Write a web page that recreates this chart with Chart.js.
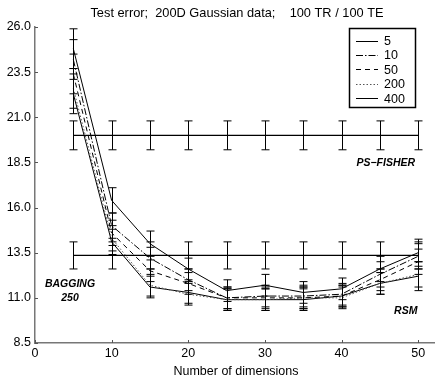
<!DOCTYPE html>
<html>
<head>
<meta charset="utf-8">
<script src="https://cdn.jsdelivr.net/npm/chart.js@4/dist/chart.umd.min.js"></script>
<style>
  html, body { margin: 0; padding: 0; background: #fff; }
  #wrap { width: 435px; height: 383px; }
</style>
</head>
<body>
<div id="wrap"><canvas id="c" width="435" height="383"></canvas></div>
<script>
// chart data
const dims = [5, 10, 15, 20, 25, 30, 35, 40, 45, 50];
const xTicks = [0, 10, 20, 30, 40, 50];
const yTicks = [8.5, 11.0, 13.5, 16.0, 18.5, 21.0, 23.5, 26.0];

const seriesNames = ['5', '10', '50', '200', '400'];
const rsm5   = [24.8, 16.4, 14.0, 12.6, 11.4, 11.7, 11.3, 11.5, 12.6, 13.5];
const rsm10  = [24.2, 15.0, 13.2, 12.0, 11.0, 11.1, 11.1, 11.2, 12.3, 13.3];
const rsm50  = [23.4, 14.6, 12.5, 11.8, 11.0, 11.0, 11.0, 11.1, 12.0, 13.0];
const rsm200 = [22.6, 14.3, 11.7, 11.2, 10.9, 10.9, 11.0, 11.0, 11.8, 12.3];
const rsm400 = [22.3, 14.1, 11.6, 11.3, 10.9, 10.9, 10.9, 11.1, 11.8, 12.2];

const err5   = [1.1, 0.7, 0.7, 0.6, 0.6, 0.6, 0.6, 0.6, 0.7, 0.75];
const err10  = [1.1, 0.7, 0.6, 0.6, 0.6, 0.6, 0.6, 0.6, 0.7, 0.7];
const err50  = [1.1, 0.7, 0.6, 0.6, 0.6, 0.6, 0.6, 0.6, 0.6, 0.7];
const err200 = [1.1, 0.7, 0.6, 0.6, 0.6, 0.6, 0.6, 0.6, 0.6, 0.7];
const err400 = [1.1, 0.7, 0.6, 0.6, 0.6, 0.6, 0.6, 0.6, 0.6, 0.8];

const psFisher = 20.0, psFisherErr = 0.8;
const bagging = 13.35, baggingErr = 0.75;

const FONT = 'Arial, "Liberation Sans", Helvetica, sans-serif';

const pts = vals => dims.map((d, i) => ({ x: d, y: vals[i] }));
const flat = v => dims.map(d => ({ x: d, y: v }));

function ds(label, vals, errs, dash, color) {
  return {
    label, data: pts(vals), errs,
    borderColor: color || '#000', borderWidth: 1, borderDash: dash,
    pointRadius: 0, tension: 0, fill: false
  };
}

const datasets = [
  ds('5', rsm5, err5, []),
  ds('10', rsm10, err10, [7, 2, 1.5, 2]),
  ds('50', rsm50, err50, [5, 4]),
  ds('200', rsm200, err200, [1.5, 2], '#555'),
  ds('400', rsm400, err400, []),
  { label: 'PS-FISHER', data: flat(psFisher), errs: dims.map(() => psFisherErr),
    borderColor: '#000', borderWidth: 1.3, pointRadius: 0, fill: false },
  { label: 'BAGGING', data: flat(bagging), errs: dims.map(() => baggingErr),
    borderColor: '#000', borderWidth: 1.3, pointRadius: 0, fill: false }
];

// error bars, inward ticks, legend box and labels
const extras = {
  id: 'extras',
  afterDatasetsDraw(chart) {
    const { ctx, scales: { x, y }, chartArea } = chart;
    ctx.save();
    ctx.strokeStyle = '#000';
    ctx.lineWidth = 1;
    ctx.setLineDash([]);
    chart.data.datasets.forEach(d => {
      d.data.forEach((p, i) => {
        const px = Math.round(x.getPixelForValue(p.x)) + 0.5;
        const y1 = y.getPixelForValue(p.y - d.errs[i]);
        const y2 = y.getPixelForValue(p.y + d.errs[i]);
        ctx.beginPath();
        ctx.moveTo(px, y1); ctx.lineTo(px, y2);
        ctx.moveTo(px - 4, y1); ctx.lineTo(px + 4, y1);
        ctx.moveTo(px - 4, y2); ctx.lineTo(px + 4, y2);
        ctx.stroke();
      });
    });

    // inward tick marks
    ctx.strokeStyle = '#555';
    ctx.beginPath();
    yTicks.forEach(v => {
      const py = Math.round(y.getPixelForValue(v)) + 0.5;
      ctx.moveTo(chartArea.left, py); ctx.lineTo(chartArea.left + 3, py);
    });
    xTicks.forEach(v => {
      const px = Math.round(x.getPixelForValue(v)) + 0.5;
      ctx.moveTo(px, chartArea.bottom); ctx.lineTo(px, chartArea.bottom - 3);
    });
    ctx.stroke();

    // titles
    ctx.fillStyle = '#000';
    ctx.font = '12.8px ' + FONT;
    ctx.textAlign = 'center';
    ctx.textBaseline = 'middle';
    ctx.fillText('Test error;  200D Gaussian data;    100 TR / 100 TE', 237, 13);
    ctx.font = '12.5px ' + FONT;
    ctx.fillText('Number of dimensions', 236, 372);

    // method labels
    ctx.font = 'italic bold 10.5px ' + FONT;
    ctx.textAlign = 'right';
    ctx.fillText('PS\u2212FISHER', x.getPixelForValue(49.6), y.getPixelForValue(18.45));
    ctx.fillText('RSM', x.getPixelForValue(49.9), y.getPixelForValue(10.25));
    ctx.textAlign = 'center';
    ctx.fillText('BAGGING', 70, y.getPixelForValue(11.77));
    ctx.fillText('250', 70, y.getPixelForValue(10.98));

    // legend
    const bx = 349, by = 28, bw = 66, bh = 79;
    ctx.fillStyle = '#fff';
    ctx.fillRect(bx, by, bw, bh);
    ctx.strokeStyle = '#000';
    ctx.lineWidth = 1.5;
    ctx.strokeRect(bx + 0.5, by + 0.5, bw, bh);
    ctx.font = '12.5px ' + FONT;
    ctx.textAlign = 'left';
    ctx.fillStyle = '#000';
    ctx.lineWidth = 1;
    seriesNames.forEach((name, i) => {
      const d = chart.data.datasets[i];
      const ly = by + 12.5 + i * 14.4;
      ctx.strokeStyle = d.borderColor;
      ctx.setLineDash(d.borderDash);
      ctx.beginPath();
      ctx.moveTo(bx + 7, Math.round(ly) + 0.5); ctx.lineTo(bx + 29, Math.round(ly) + 0.5);
      ctx.stroke();
      ctx.setLineDash([]);
      ctx.fillText(name, bx + 35, ly + 1);
    });
    ctx.restore();
  }
};

new Chart(document.getElementById('c'), {
  type: 'line',
  data: { datasets },
  plugins: [extras],
  options: {
    responsive: false,
    animation: false,
    layout: { padding: { top: 27, right: 0, left: 0, bottom: 0 } },
    plugins: { legend: { display: false }, tooltip: { enabled: false } },
    scales: {
      x: {
        type: 'linear', min: 0, max: 52.2,
        afterBuildTicks: s => { s.ticks = xTicks.map(v => ({ value: v })); },
        afterFit: s => { s.height = 40; },
        grid: { display: false, drawTicks: false },
        border: { display: true, color: '#777', width: 1.5 },
        ticks: { color: '#000', font: { family: FONT, size: 12.5 }, padding: 3, maxRotation: 0 }
      },
      y: {
        type: 'linear', min: 8.5, max: 26,
        afterBuildTicks: s => { s.ticks = yTicks.map(v => ({ value: v })); },
        afterFit: s => { s.width = 35; },
        grid: { display: false, drawTicks: false },
        border: { display: true, color: '#777', width: 1.5 },
        ticks: { color: '#000', font: { family: FONT, size: 12.5 }, padding: 4,
                 callback: v => Number(v).toFixed(1) }
      }
    }
  }
});
</script>
</body>
</html>
